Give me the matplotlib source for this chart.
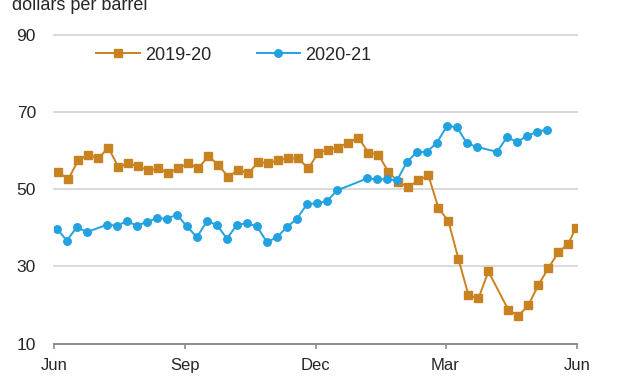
import numpy as np
import pandas as pd
import matplotlib
matplotlib.use('Agg')
import matplotlib.pyplot as plt

plt.rcParams['font.family'] = ['Liberation Sans', 'DejaVu Sans']

# weekly prices, dollars per barrel (None = no report that week)
prices_1920 = [54.5, 52.6, 57.6, 59.0, 58.0, 60.8, 55.8, 56.7, 56.0, 54.9,
               55.4, 54.3, 55.4, 56.8, 55.4, 58.6, 56.3, 53.2, 55.1, 54.1,
               57.1, 56.7, 57.6, 58.0, 58.0, 55.4, 59.5, 60.3, 60.8, 62.1,
               63.4, 59.5, 59.0, 54.5, 51.9, 50.6, 52.3, 53.6, 45.2, 41.7,
               32.0, 22.6, 21.7, 28.7, None, 18.7, 17.2, 20.0, 25.2, 29.6,
               33.7, 35.9, 39.9]
prices_2021 = [39.8, 36.7, 40.2, 38.9, None, 40.8, 40.6, 41.7, 40.6, 41.5,
               42.5, 42.4, 43.4, 40.4, 37.6, 41.7, 40.8, 37.2, 40.8, 41.2,
               40.4, 36.3, 37.6, 40.2, 42.4, 46.1, 46.4, 46.9, 49.7, None,
               None, 52.8, 52.6, 52.6, 52.3, 57.1, 59.7, 59.7, 62.1, 66.4,
               66.1, 61.9, 61.0, None, 59.7, 63.5, 62.3, 63.8, 64.9, 65.5]

dates_1920 = list(pd.date_range('2019-06-04', periods=52, freq='7D')) + [pd.Timestamp('2020-05-31')]
dates_2021 = list(pd.date_range('2020-06-03', periods=50, freq='7D'))

month_labels = ['Jun', 'Sep', 'Dec', 'Mar', 'Jun']
month_dates_1920 = ['2019-06-01', '2019-09-01', '2019-12-01', '2020-03-01', '2020-06-01']


def season_days(dates, start):
    # days since June 1 of the season's first year
    return [(pd.Timestamp(d) - pd.Timestamp(start)).days for d in dates]


def series(dates, values, start):
    df = pd.DataFrame({'day': season_days(dates, start), 'price': values}).dropna()
    return df['day'], df['price']


fig = plt.figure(figsize=(6.27, 3.76), dpi=100)
ax = fig.add_axes([54 / 627, 1 - 343.6 / 376, (577 - 54) / 627, (343.6 - 35) / 376])

orange = '#C8821F'
blue = '#22A2E0'
text_col = '#262626'

x1, y1 = series(dates_1920, prices_1920, '2019-06-01')
x2, y2 = series(dates_2021, prices_2021, '2020-06-01')

ax.plot(x1, y1, color=orange, lw=1.4, marker='s', ms=5.8, label='2019-20')
ax.plot(x2, y2, color=blue, lw=1.4, marker='o', ms=5.4, label='2020-21')

ticks = season_days(month_dates_1920, '2019-06-01')
ax.set_xlim(ticks[0], ticks[-1])
ax.set_ylim(10, 90)
ax.set_xticks(ticks)
ax.set_xticklabels(month_labels, fontsize=12, color=text_col)
ax.set_yticks([10, 30, 50, 70, 90])
ax.tick_params(axis='y', length=0, pad=13, labelsize=12.5, labelcolor=text_col)
ax.tick_params(axis='x', length=3.5, width=1.2, color='#8c8c8c', pad=7)

for v in [30, 50, 70, 90]:
    ax.axhline(v, color='#d9d9d9', lw=1.4, zorder=0, clip_on=False)

for s in ['top', 'right', 'left']:
    ax.spines[s].set_visible(False)
ax.spines['bottom'].set_color('#8c8c8c')
ax.spines['bottom'].set_linewidth(1.4)

leg = ax.legend(loc='center left', bbox_to_anchor=(0.05, 0.935), ncol=2, frameon=False,
                fontsize=13, handlelength=2.4, columnspacing=2.5, handletextpad=0.3)
for t in leg.get_texts():
    t.set_color(text_col)

fig.text(12 / 627, 1 - 10 / 376, 'dollars per barrel', fontsize=13, color=text_col,
         ha='left', va='baseline')

fig.savefig('out.png', dpi=100)
